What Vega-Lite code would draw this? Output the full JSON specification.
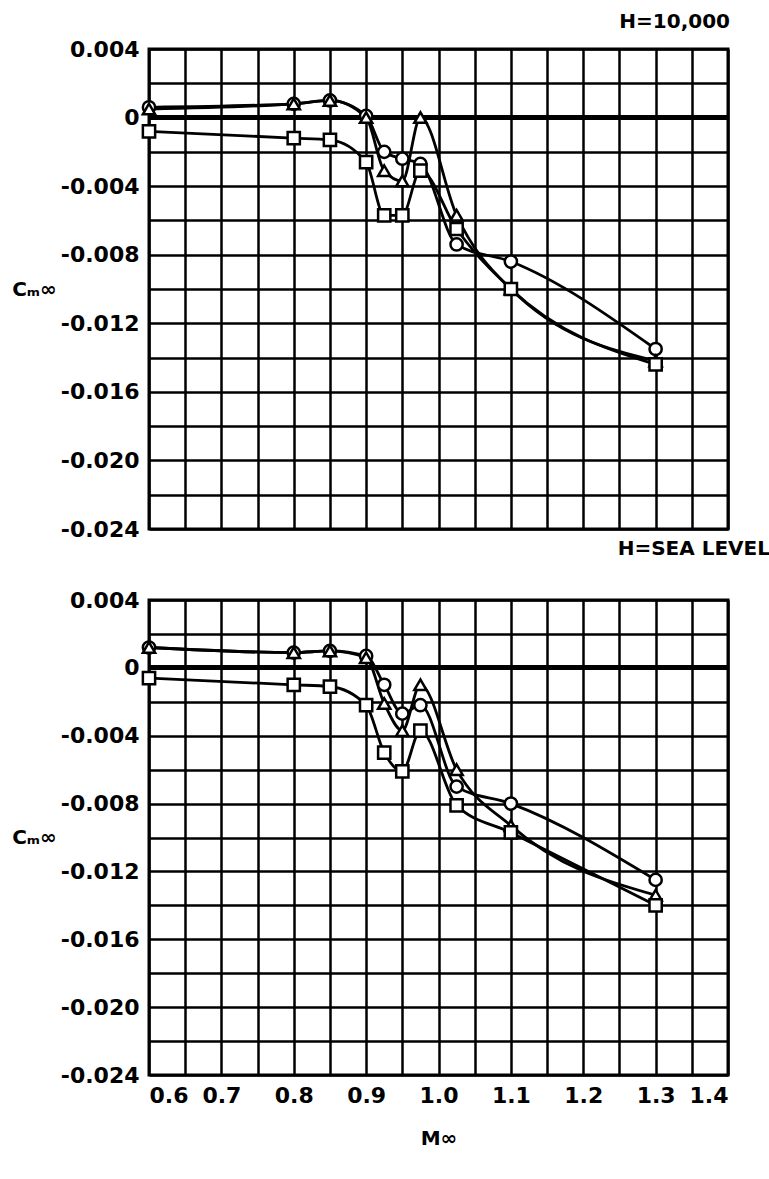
{
  "$schema": "https://vega.github.io/schema/vega-lite/v6.json",
  "padding": {"left": 10, "top": 10, "right": 5, "bottom": 5},
  "background": "white",
  "spacing": -5,
  "config": {
    "font": "DejaVu Sans",
    "view": {"stroke": "black", "strokeWidth": 3},
    "axis": {
      "grid": true, "gridColor": "black", "gridOpacity": 1, "gridWidth": 2.5,
      "domain": false, "ticks": false,
      "labelFont": "DejaVu Sans", "labelFontWeight": "bold", "labelFontSize": 22, "labelColor": "black",
      "titleFont": "DejaVu Sans", "titleFontWeight": "bold", "titleFontSize": 20, "titleColor": "black"
    },
    "title": {"font": "DejaVu Sans", "fontWeight": "bold", "fontSize": 20, "color": "black", "anchor": "end"}
  },
  "data": {"values": [
    {"panel": "top", "series": "circle", "M": 0.6, "Cm": 0.0006},
    {"panel": "top", "series": "circle", "M": 0.8, "Cm": 0.0008},
    {"panel": "top", "series": "circle", "M": 0.85, "Cm": 0.001},
    {"panel": "top", "series": "circle", "M": 0.9, "Cm": 0.0001},
    {"panel": "top", "series": "circle", "M": 0.925, "Cm": -0.002},
    {"panel": "top", "series": "circle", "M": 0.95, "Cm": -0.0024},
    {"panel": "top", "series": "circle", "M": 0.975, "Cm": -0.0027},
    {"panel": "top", "series": "circle", "M": 1.025, "Cm": -0.0074},
    {"panel": "top", "series": "circle", "M": 1.1, "Cm": -0.0084},
    {"panel": "top", "series": "circle", "M": 1.3, "Cm": -0.0135},
    {"panel": "top", "series": "triangle", "M": 0.6, "Cm": 0.0005},
    {"panel": "top", "series": "triangle", "M": 0.8, "Cm": 0.0008},
    {"panel": "top", "series": "triangle", "M": 0.85, "Cm": 0.001},
    {"panel": "top", "series": "triangle", "M": 0.9, "Cm": 0.0},
    {"panel": "top", "series": "triangle", "M": 0.925, "Cm": -0.0031},
    {"panel": "top", "series": "triangle", "M": 0.95, "Cm": -0.0037},
    {"panel": "top", "series": "triangle", "M": 0.975, "Cm": 0.0},
    {"panel": "top", "series": "triangle", "M": 1.025, "Cm": -0.0057},
    {"panel": "top", "series": "triangle", "M": 1.1, "Cm": -0.01},
    {"panel": "top", "series": "triangle", "M": 1.3, "Cm": -0.0142},
    {"panel": "top", "series": "square", "M": 0.6, "Cm": -0.0008},
    {"panel": "top", "series": "square", "M": 0.8, "Cm": -0.0012},
    {"panel": "top", "series": "square", "M": 0.85, "Cm": -0.0013},
    {"panel": "top", "series": "square", "M": 0.9, "Cm": -0.0026},
    {"panel": "top", "series": "square", "M": 0.925, "Cm": -0.0057},
    {"panel": "top", "series": "square", "M": 0.95, "Cm": -0.0057},
    {"panel": "top", "series": "square", "M": 0.975, "Cm": -0.0031},
    {"panel": "top", "series": "square", "M": 1.025, "Cm": -0.0065},
    {"panel": "top", "series": "square", "M": 1.1, "Cm": -0.01},
    {"panel": "top", "series": "square", "M": 1.3, "Cm": -0.0144},
    {"panel": "bottom", "series": "circle", "M": 0.6, "Cm": 0.0012},
    {"panel": "bottom", "series": "circle", "M": 0.8, "Cm": 0.0009},
    {"panel": "bottom", "series": "circle", "M": 0.85, "Cm": 0.001},
    {"panel": "bottom", "series": "circle", "M": 0.9, "Cm": 0.0007},
    {"panel": "bottom", "series": "circle", "M": 0.925, "Cm": -0.001},
    {"panel": "bottom", "series": "circle", "M": 0.95, "Cm": -0.0027},
    {"panel": "bottom", "series": "circle", "M": 0.975, "Cm": -0.0022},
    {"panel": "bottom", "series": "circle", "M": 1.025, "Cm": -0.007},
    {"panel": "bottom", "series": "circle", "M": 1.1, "Cm": -0.008},
    {"panel": "bottom", "series": "circle", "M": 1.3, "Cm": -0.0125},
    {"panel": "bottom", "series": "triangle", "M": 0.6, "Cm": 0.0012},
    {"panel": "bottom", "series": "triangle", "M": 0.8, "Cm": 0.0009},
    {"panel": "bottom", "series": "triangle", "M": 0.85, "Cm": 0.001},
    {"panel": "bottom", "series": "triangle", "M": 0.9, "Cm": 0.0006},
    {"panel": "bottom", "series": "triangle", "M": 0.925, "Cm": -0.0021},
    {"panel": "bottom", "series": "triangle", "M": 0.95, "Cm": -0.0037},
    {"panel": "bottom", "series": "triangle", "M": 0.975, "Cm": -0.001},
    {"panel": "bottom", "series": "triangle", "M": 1.025, "Cm": -0.006},
    {"panel": "bottom", "series": "triangle", "M": 1.1, "Cm": -0.0093},
    {"panel": "bottom", "series": "triangle", "M": 1.3, "Cm": -0.0134},
    {"panel": "bottom", "series": "square", "M": 0.6, "Cm": -0.0006},
    {"panel": "bottom", "series": "square", "M": 0.8, "Cm": -0.001},
    {"panel": "bottom", "series": "square", "M": 0.85, "Cm": -0.0011},
    {"panel": "bottom", "series": "square", "M": 0.9, "Cm": -0.0022},
    {"panel": "bottom", "series": "square", "M": 0.925, "Cm": -0.005},
    {"panel": "bottom", "series": "square", "M": 0.95, "Cm": -0.0061},
    {"panel": "bottom", "series": "square", "M": 0.975, "Cm": -0.0037},
    {"panel": "bottom", "series": "square", "M": 1.025, "Cm": -0.0081},
    {"panel": "bottom", "series": "square", "M": 1.1, "Cm": -0.0097},
    {"panel": "bottom", "series": "square", "M": 1.3, "Cm": -0.014}
  ]},
  "vconcat": [
    {
      "width": 579, "height": 480,
      "title": {"text": "H=10,000", "offset": 6},
      "transform": [{"filter": "datum.panel == 'top'"}],
      "encoding": {
        "x": {"field": "M", "type": "quantitative", "scale": {"domain": [0.6, 1.4], "nice": false, "zero": false},
          "axis": {"values": [0.6,0.65,0.7,0.75,0.8,0.85,0.9,0.95,1.0,1.05,1.1,1.15,1.2,1.25,1.3,1.35,1.4], "labels": false, "title": null}},
        "y": {"field": "Cm", "type": "quantitative", "scale": {"domain": [-0.024, 0.004], "nice": false, "zero": false},
          "axis": {"values": [0.004,0.002,0,-0.002,-0.004,-0.006,-0.008,-0.01,-0.012,-0.014,-0.016,-0.018,-0.02,-0.022,-0.024],
            "labelExpr": "abs(round(datum.value*1000)) % 4 != 0 ? '' : (datum.value == 0 ? '0' : replace(format(datum.value, '.3f'), '\u2212', '-'))",
            "labelPadding": 10, "title": "C\u2098\u221e", "titleAngle": 0, "titlePadding": 4, "titleAlign": "right", "titleBaseline": "middle"}}
      },
      "layer": [
        {"mark": {"type": "rule", "color": "black", "strokeWidth": 4}, "encoding": {"y": {"datum": 0}, "x": null}},
        {"mark": {"type": "line", "color": "black", "strokeWidth": 2.8, "interpolate": "monotone"}, "encoding": {"detail": {"field": "series"}}},
        {"mark": {"type": "point", "filled": false, "fill": "white", "fillOpacity": 1, "stroke": "black", "strokeWidth": 2.5, "size": 150, "opacity": 1},
          "encoding": {"shape": {"field": "series", "type": "nominal", "scale": {"domain": ["circle", "triangle", "square"], "range": ["circle", "triangle-up", "square"]}, "legend": null}}}
      ]
    },
    {
      "width": 579, "height": 475,
      "title": {"text": "H=SEA LEVEL", "offset": 30, "dx": 40},
      "transform": [{"filter": "datum.panel == 'bottom'"}],
      "encoding": {
        "x": {"field": "M", "type": "quantitative", "scale": {"domain": [0.6, 1.4], "nice": false, "zero": false},
          "axis": {"values": [0.6,0.65,0.7,0.75,0.8,0.85,0.9,0.95,1.0,1.05,1.1,1.15,1.2,1.25,1.3,1.35,1.4],
            "labelExpr": "round(datum.value*100) % 10 != 0 ? '' : format(datum.value, '.1f')", "labelPadding": 10,
            "title": "M\u221e", "titlePadding": 22}},
        "y": {"field": "Cm", "type": "quantitative", "scale": {"domain": [-0.024, 0.004], "nice": false, "zero": false},
          "axis": {"values": [0.004,0.002,0,-0.002,-0.004,-0.006,-0.008,-0.01,-0.012,-0.014,-0.016,-0.018,-0.02,-0.022,-0.024],
            "labelExpr": "abs(round(datum.value*1000)) % 4 != 0 ? '' : (datum.value == 0 ? '0' : replace(format(datum.value, '.3f'), '\u2212', '-'))",
            "labelPadding": 10, "title": "C\u2098\u221e", "titleAngle": 0, "titlePadding": 4, "titleAlign": "right", "titleBaseline": "middle"}}
      },
      "layer": [
        {"mark": {"type": "rule", "color": "black", "strokeWidth": 4}, "encoding": {"y": {"datum": 0}, "x": null}},
        {"mark": {"type": "line", "color": "black", "strokeWidth": 2.8, "interpolate": "monotone"}, "encoding": {"detail": {"field": "series"}}},
        {"mark": {"type": "point", "filled": false, "fill": "white", "fillOpacity": 1, "stroke": "black", "strokeWidth": 2.5, "size": 150, "opacity": 1},
          "encoding": {"shape": {"field": "series", "type": "nominal", "scale": {"domain": ["circle", "triangle", "square"], "range": ["circle", "triangle-up", "square"]}, "legend": null}}}
      ]
    }
  ]
}
